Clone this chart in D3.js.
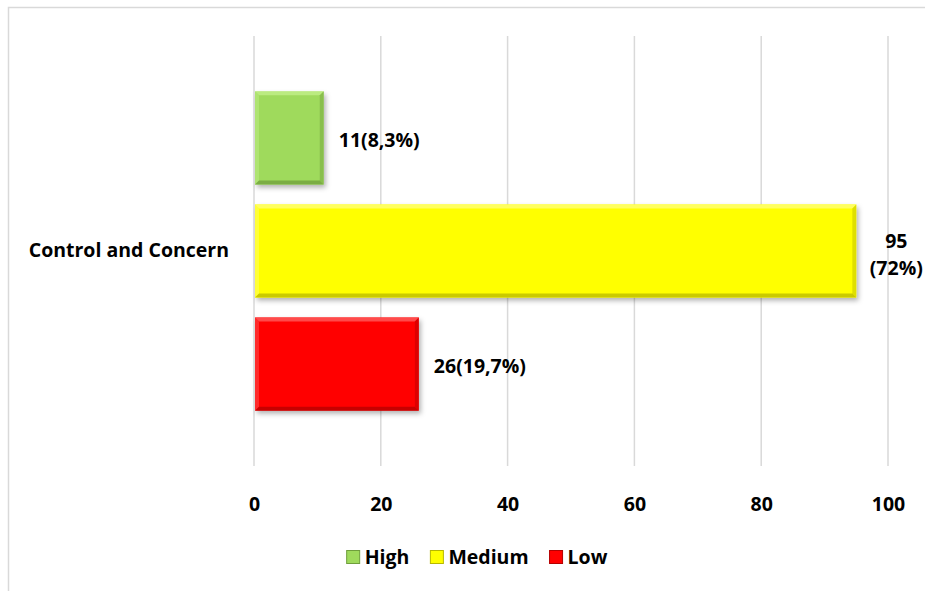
<!DOCTYPE html>
<html>
<head>
<meta charset="utf-8">
<script src="https://cdn.jsdelivr.net/npm/d3@7/dist/d3.min.js"></script>
<style>
  html, body { margin: 0; padding: 0; background: #fff; }
  svg { display: block; }
</style>
</head>
<body>
<svg id="chart" width="925" height="591"></svg>
<script>
// Chart data
const categories = ["Control and Concern"];
const series = ["High", "Medium", "Low"];
const values = [11, 95, 26];
const valueLabels = [["11(8,3%)"], ["95", "(72%)"], ["26(19,7%)"]];
const xTicks = [0, 20, 40, 60, 80, 100];

const FONT = "'Open Sans', Lato, sans-serif";
const FS = 19.5;

// Colours per series: face, light bevel, dark bevel
const colors = {
  High:   { face: "#9FDA5C", light: "#C8F290", dark: "#6F9E3C", legend: "#6F9E3C" },
  Medium: { face: "#FFFF00", light: "#FFFF88", dark: "#B8B800", legend: "#B8B800" },
  Low:    { face: "#FF0000", light: "#FF6A6A", dark: "#B40000", legend: "#B40000" }
};

const svg = d3.select("#chart");

// Outer chart frame
svg.append("rect")
  .attr("x", 8.5).attr("y", 7.5)
  .attr("width", 1000).attr("height", 700)
  .attr("fill", "#fff").attr("stroke", "#D9D9D9").attr("stroke-width", 1.5);

const defs = svg.append("defs");
defs.append("filter").attr("id", "shadow")
  .attr("x", "-10%").attr("y", "-10%").attr("width", "130%").attr("height", "140%")
  .append("feDropShadow")
  .attr("dx", 2).attr("dy", 3).attr("stdDeviation", 2.5)
  .attr("flood-color", "#000").attr("flood-opacity", 0.3);

const x = d3.scaleLinear().domain([0, 100]).range([254, 888]);
const y0 = d3.scaleBand().domain(categories).range([36, 466]);
const y1 = d3.scaleBand().domain(series).range([0, y0.bandwidth()])
  .paddingInner(0.175).paddingOuter(0.49);

const styleText = sel => sel
  .attr("font-family", FONT).attr("font-weight", 700)
  .attr("font-size", FS).attr("fill", "#000");

// Vertical gridlines
svg.append("g").selectAll("line").data(xTicks).join("line")
  .attr("x1", d => x(d)).attr("x2", d => x(d))
  .attr("y1", y0.range()[0]).attr("y2", y0.range()[1])
  .attr("stroke", "#D9D9D9").attr("stroke-width", 1.5);

// X axis labels
const xAxis = d3.axisBottom(x).tickValues(xTicks).tickSize(0).tickPadding(0);
const gx = svg.append("g").attr("transform", "translate(0,497)").call(xAxis);
gx.select(".domain").remove();
gx.selectAll("text").call(styleText);

// Category label
const yAxis = d3.axisLeft(y0).tickSize(0).tickPadding(25);
const gy = svg.append("g").attr("transform", `translate(${x(0)},0)`).call(yAxis);
gy.select(".domain").remove();
gy.selectAll("text").call(styleText);

// Bars with bevel
const bev = 4;
const rows = series.map((s, i) => ({ s, v: values[i], lab: valueLabels[i], cat: categories[0] }));
const bars = svg.append("g").selectAll("g").data(rows).join("g");

bars.each(function (d) {
  const g = d3.select(this);
  const x0 = x(0) + 1, x1 = x(d.v);
  const yt = y0(d.cat) + y1(d.s), h = y1.bandwidth(), yb = yt + h;
  const c = colors[d.s];
  g.append("rect")
    .attr("x", x0).attr("y", yt).attr("width", x1 - x0).attr("height", h)
    .attr("fill", c.face).attr("filter", "url(#shadow)");
  const poly = (pts, fill, op) => g.append("polygon")
    .attr("points", pts.map(p => p.join(",")).join(" "))
    .attr("fill", fill).attr("opacity", op);
  poly([[x0, yt], [x1, yt], [x1 - bev, yt + bev], [x0 + bev, yt + bev]], c.light, 0.7);
  poly([[x0, yt], [x0 + bev, yt + bev], [x0 + bev, yb - bev], [x0, yb]], c.light, 0.4);
  poly([[x1, yt], [x1, yb], [x1 - bev, yb - bev], [x1 - bev, yt + bev]], c.dark, 0.45);
  poly([[x0, yb], [x0 + bev, yb - bev], [x1 - bev, yb - bev], [x1, yb]], c.dark, 0.75);
});

// Value labels
bars.each(function (d) {
  const g = d3.select(this);
  const yc = y0(d.cat) + y1(d.s) + y1.bandwidth() / 2;
  const t = g.append("text").call(styleText);
  if (d.lab.length === 1) {
    t.attr("x", x(d.v) + 15).attr("y", yc + 2).attr("dy", "0.35em").text(d.lab[0]);
  } else {
    t.attr("text-anchor", "middle");
    d.lab.forEach((line, k) => {
      t.append("tspan").attr("x", x(d.v) + 40)
        .attr("y", yc - 10 + k * 27).attr("dy", "0.35em").text(line);
    });
  }
});

// Legend, laid out from measured text widths and centred under the plot
const lg = svg.append("g").attr("transform", "translate(0,557)");
const items = lg.selectAll("g").data(series).join("g");
items.append("rect").attr("y", -6.5).attr("width", 13).attr("height", 13)
  .attr("fill", d => colors[d].face).attr("stroke", d => colors[d].legend).attr("stroke-width", 1);
items.append("text").attr("x", 18).attr("dy", "0.35em").call(styleText).text(d => d);
const widths = [];
items.each(function () {
  widths.push(18 + d3.select(this).select("text").node().getComputedTextLength());
});
const gap = 21;
const total = d3.sum(widths) + gap * (widths.length - 1);
const start = 477 - total / 2;
items.attr("transform", (d, i) => {
  const pos = start + d3.sum(widths.slice(0, i)) + gap * i;
  return `translate(${pos},0)`;
});
</script>
</body>
</html>
